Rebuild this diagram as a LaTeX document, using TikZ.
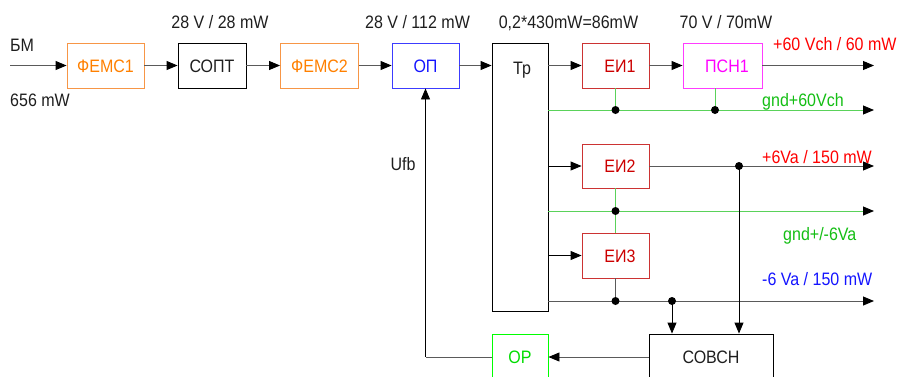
\documentclass[tikz,border=0pt]{standalone}
\usepackage{fontspec}
\setmainfont[FakeStretch=0.89]{Liberation Sans}
\usetikzlibrary{arrows.meta}
\definecolor{orgB}{RGB}{247,150,70}
\definecolor{orgT}{RGB}{255,128,0}
\definecolor{bluB}{RGB}{60,60,255}
\definecolor{bluT}{RGB}{20,20,255}
\definecolor{redB}{RGB}{204,51,51}
\definecolor{redT}{RGB}{204,0,0}
\definecolor{redL}{RGB}{255,0,0}
\definecolor{magB}{RGB}{255,60,255}
\definecolor{magT}{RGB}{255,0,255}
\definecolor{grnW}{RGB}{90,210,90}
\definecolor{grnL}{RGB}{20,190,20}
\definecolor{grnB}{RGB}{0,255,0}
\definecolor{grnT}{RGB}{0,220,0}
\definecolor{wireG}{RGB}{90,90,90}
\definecolor{txt}{RGB}{30,30,30}
\tikzset{
  box/.style={draw, line width=0.9pt, minimum height=45pt, inner sep=0pt,
    text height=13pt, text depth=0pt, text=txt, font=\fontsize{18}{18}\selectfont},
  lbl/.style={inner sep=0pt, anchor=base west, text=txt, font=\fontsize{18}{18}\selectfont},
  clbl/.style={inner sep=0pt, anchor=base, text=txt, font=\fontsize{18}{18}\selectfont},
  wire/.style={line width=0.9pt, draw=wireG},
  bwire/.style={line width=0.9pt, draw=black},
  gwire/.style={line width=0.9pt, draw=grnW},
  tip/.style={-{Triangle[length=11pt,width=9pt,color=black]}},
  arr/.style={wire, tip},
  barr/.style={bwire, tip},
  garr/.style={gwire, tip},
  dot/.style={circle, fill=black, inner sep=0pt, minimum size=8pt},
}
\begin{document}
\begin{tikzpicture}[x=1pt,y=-1pt]
\useasboundingbox (0,0) rectangle (900,376);
\clip (0,0) rectangle (900,376);
% boxes
\node[box, draw=orgB, text=orgT, minimum width=77pt] (fems1) at (105.5,65.5) {ФЕМС1};
\node[box, minimum width=68pt] (sopt) at (212,65.5) {СОПТ};
\node[box, draw=orgB, text=orgT, minimum width=78pt] (fems2) at (319.5,65.5) {ФЕМС2};
\node[box, draw=bluB, text=bluT, minimum width=67pt] (op) at (425.5,65.5) {ОП};
\node[box, minimum width=56pt, minimum height=268pt] (tr) at (520,177) {};
\node[lbl] (trl) at (513,74) {Тр};
\node[box, draw=redB, text=redT, minimum width=67pt] (ei1) at (615.5,65.5) {\hspace*{9pt}ЕИ1};
\node[box, draw=magB, text=magT, minimum width=79pt] (psn1) at (722.5,65.5) {\hspace*{9pt}ПСН1};
\node[box, draw=redB, text=redT, minimum width=67pt, minimum height=44pt] (ei2) at (615.5,166) {\hspace*{9pt}ЕИ2};
\node[box, draw=redB, text=redT, minimum width=67pt] (ei3) at (615.5,255.5) {\hspace*{9pt}ЕИ3};
\node[box, minimum width=124pt, minimum height=46pt] (sovch) at (711,357) {СОВСН};
\node[box, draw=grnB, text=grnT, minimum width=56pt, minimum height=46pt] (or) at (520,357) {ОР};
% coordinates
\coordinate (in) at (10,65.5);
\coordinate (o1) at (874,65.5);
\coordinate (g1a) at (548,110);
\coordinate (g1b) at (874,110);
\coordinate (o2) at (874,166);
\coordinate (g2a) at (548,211);
\coordinate (g2b) at (874,211);
\coordinate (b3a) at (548,301);
\coordinate (b3b) at (874,301);
\coordinate (j1) at (ei1.south |- g1a);
\coordinate (j2) at ([xshift=-7.5pt]psn1.south |- g1a);
\coordinate (j3) at (739,166);
\coordinate (j4) at (ei2.south |- g2a);
\coordinate (j5) at (ei3.south |- b3a);
\coordinate (j6) at (672,301);
\coordinate (fbc) at (op.south |- or.west);
% main chain
\draw[arr] (in) -- (fems1);
\draw[arr] (fems1) -- (sopt);
\draw[arr] (sopt) -- (fems2);
\draw[arr] (fems2) -- (op);
\draw[arr] (op.east) -- (op.east -| tr.west);
\draw[arr] (tr.east |- ei1) -- (ei1);
\draw[arr] (ei1) -- (psn1);
\draw[arr] (psn1) -- (o1);
% green bus 1
\draw[garr] (g1a) -- (g1b);
\draw[gwire] (ei1.south) -- (j1);
\draw[gwire] ([xshift=-7.5pt]psn1.south) -- (j2);
% EI2
\draw[barr] (tr.east |- ei2) -- (ei2);
\draw[arr] (ei2) -- (o2);
% green bus 2
\draw[garr] (g2a) -- (g2b);
\draw[gwire] (ei2.south) -- (ei3.north);
% EI3
\draw[barr] (tr.east |- ei3) -- (ei3);
\draw[wire] (ei3.south) -- (j5);
\draw[arr] (b3a) -- (b3b);
% to SOVCH
\draw[barr] (j6) -- (j6 |- sovch.north);
\draw[barr] (j3) -- (j3 |- sovch.north);
% feedback
\draw[arr] (sovch) -- (or);
\draw[wire] (or.west) -- (fbc);
\draw[barr] (fbc) -- (op.south);
% dots
\node[dot] (dj1) at (j1) {};
\node[dot] (dj2) at (j2) {};
\node[dot] (dj3) at (j3) {};
\node[dot] (dj4) at (j4) {};
\node[dot] (dj5) at (j5) {};
\node[dot] (dj6) at (j6) {};
% labels
\node[lbl] (lbm) at (10,51) {БМ};
\node[lbl] (l656) at (10,106) {656 mW};
\node[clbl] (l28) at (220,28) {28 V / 28 mW};
\node[clbl] (l112) at (417.5,28) {28 V / 112 mW};
\node[clbl] (l86) at (568.5,28) {0,2*430mW=86mW};
\node[clbl] (l70) at (726,28) {70 V / 70mW};
\node[lbl, text=redL] (l60) at (773,50) {+60 Vch / 60 mW};
\node[lbl, text=grnL] (lg60) at (762,106) {gnd+60Vch};
\node[lbl, text=redL] (l6p) at (762,163) {+6Va / 150 mW};
\node[lbl, text=grnL] (lg6) at (783,240) {gnd+/-6Va};
\node[lbl, text=bluT] (l6m) at (762,285) {-6 Va / 150 mW};
\node[clbl] (lufb) at (403,170) {Ufb};
\end{tikzpicture}
\end{document}
